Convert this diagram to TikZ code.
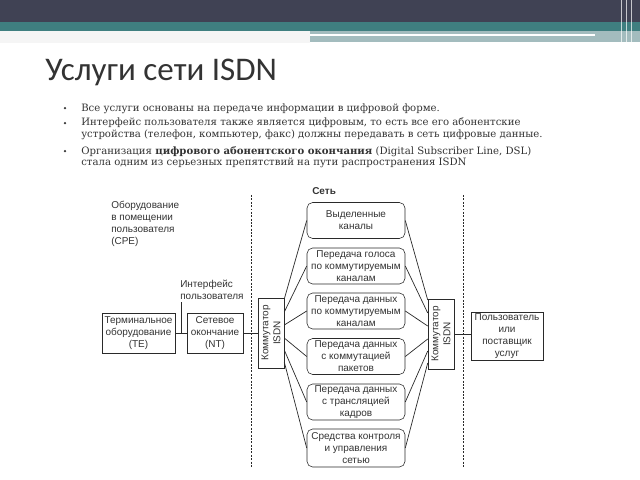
\documentclass[tikz,border=0pt]{standalone}
\usepackage{fontspec}
\setmainfont{DejaVu Serif}
\setsansfont{Liberation Sans}
\newfontfamily\titlefont{Carlito}
\definecolor{hdark}{HTML}{404254}
\definecolor{hteal}{HTML}{3F7F80}
\definecolor{hlight}{HTML}{A3BCBE}
\definecolor{txtgray}{HTML}{333333}
\definecolor{linegray}{HTML}{2A2A2A}
\tikzset{
  box/.style={draw=linegray, fill=white, align=center, text=txtgray,
    font=\sffamily\fontsize{7.1}{8.5}\selectfont, inner sep=1pt},
  netbox/.style={box, rounded corners=4pt, minimum width=2.45cm, minimum height=0.9cm},
  switchbox/.style={box, rotate=90, minimum width=1.75cm, minimum height=0.65cm},
  lbl/.style={align=left, text=txtgray, font=\sffamily\fontsize{7.1}{8.5}\selectfont, inner sep=0pt},
  bulletline/.style={anchor=base west, inner sep=0pt, text=txtgray, font=\fontsize{7.2}{8}\selectfont},
  fan/.style={draw=linegray, line width=0.5pt},
  border/.style={draw=linegray, dash pattern=on 1.4pt off 1pt, line width=0.5pt}
}
\begin{document}
\begin{tikzpicture}[x=0.025cm,y=-0.025cm]
\useasboundingbox (0,0) rectangle (640,480);
% header
\fill[hdark] (0,0) rectangle (640,22);
\fill[hteal] (0,22) rectangle (640,31);
\fill[black!4] (0,31) rectangle (310,43);
\fill[hlight] (310,31) rectangle (640,42);
\fill[white] (310,34) rectangle (595,36);
\fill[white] (345,42) rectangle (640,44);
\foreach \x in {621,626,631} \fill[white,opacity=0.7] (\x,0) rectangle (\x+1.2,44);
% title
\node[anchor=base west, inner sep=0pt, text=txtgray, font=\titlefont\fontsize{23.5}{24}\selectfont] (title) at (45,80) {Услуги сети ISDN};
% bullets
\node[bulletline] (b1) at (81,111) {Все услуги основаны на передаче информации в цифровой форме.};
\node[bulletline] (b2) at (81,126) {Интерфейс пользователя также является цифровым, то есть все его абонентские};
\node[bulletline] (b3) at (81,137) {устройства (телефон, компьютер, факс) должны передавать в сеть цифровые данные.};
\node[bulletline] (b4) at (81,154) {Организация \textbf{цифрового абонентского окончания} (Digital Subscriber Line, DSL)};
\node[bulletline] (b5) at (81,165) {стала одним из серьезных препятствий на пути распространения ISDN};
\foreach \b in {b1,b2,b4} \fill[txtgray] ([xshift=-0.4cm,yshift=2pt]\b.base west) circle (0.9pt);
% diagram
\node[box, minimum width=1.825cm, minimum height=1cm] (te) at (138.5,333) {Терминальное\\оборудование\\(TE)};
\node[box, minimum width=1.4cm, minimum height=1cm] (nt) at (215,333) {Сетевое\\окончание\\(NT)};
\node[switchbox] (swl) at (271,333) {Коммутатор\\ISDN};
\node[switchbox] (swr) at (441,334) {Коммутатор\\ISDN};
\node[box, minimum width=1.8cm, minimum height=1.175cm] (user) at (507,336.5) {Пользователь\\или\\поставщик\\услуг};
\node[netbox] (net1) at (356,220.5) {Выделенные\\каналы};
\node[netbox] (net2) at (356,266) {Передача голоса\\по коммутируемым\\каналам};
\node[netbox] (net3) at (356,311) {Передача данных\\по коммутируемым\\каналам};
\node[netbox] (net4) at (356,356.5) {Передача данных\\с коммутацией\\пакетов};
\node[netbox] (net5) at (356,402) {Передача данных\\с трансляцией\\кадров};
\node[netbox, minimum height=0.95cm] (net6) at (356,448) {Средства контроля\\и управления\\сетью};
\node[anchor=base west, inner sep=0pt, text=txtgray, font=\sffamily\bfseries\fontsize{7.1}{8.5}\selectfont] (net) at (312,194) {Сеть};
\node[lbl, anchor=north west] (cpe) at (111,201) {Оборудование\\в помещении\\пользователя\\(CPE)};
\node[lbl, anchor=north west] (ifc) at (180,280) {Интерфейс\\пользователя};
\coordinate (tick) at (181,302);
% borders
\coordinate (lt) at (251,195);
\coordinate (lb) at (251,467);
\coordinate (rt) at (463,195);
\coordinate (rb) at (463,467);
\draw[border] (lt) -- (lb);
\draw[border] (rt) -- (rb);
% connectors
\draw[fan] (te) -- (nt);
\draw[fan] (nt) -- (swl.north);
\draw[fan] (swr.south) -- (swr.south -| user.west);
\draw[fan] (tick) -- (tick |- te.east);
\foreach \i/\s in {1/0.85,2/0.525,3/0.2,4/-0.125,5/-0.425,6/-0.725}{
  \draw[fan] ([yshift=\s cm]swl.south) -- (net\i.west);
  \draw[fan] (net\i.east) -- ([yshift=\s cm]swr.north);
}
\end{tikzpicture}
\end{document}
